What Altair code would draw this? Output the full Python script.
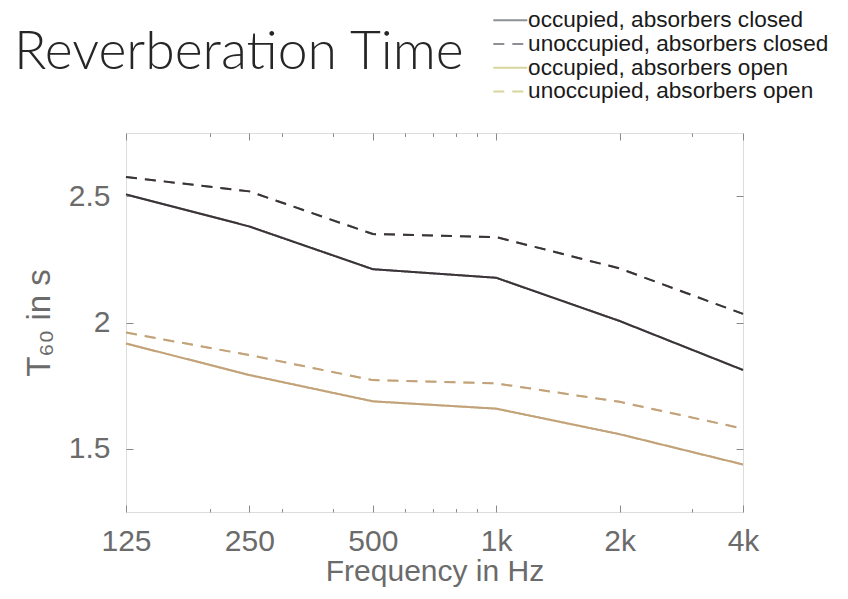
import altair as alt
import pandas as pd

# ---- data ----
freqs = [125, 250, 500, 1000, 2000, 4000]
occ_closed = [2.507, 2.380, 2.211, 2.177, 2.006, 1.812]
unocc_closed = [2.576, 2.519, 2.350, 2.338, 2.214, 2.034]
occ_open = [1.917, 1.792, 1.688, 1.659, 1.558, 1.438]
unocc_open = [1.960, 1.871, 1.772, 1.759, 1.686, 1.580]

series_names = [
    "occupied, absorbers closed",
    "unoccupied, absorbers closed",
    "occupied, absorbers open",
    "unoccupied, absorbers open",
]
series_values = [occ_closed, unocc_closed, occ_open, unocc_open]

major_x = [125, 250, 500, 1000, 2000, 4000]
minor_x = [200, 300, 400, 600, 700, 800, 900, 3000]
y_ticks = [1.5, 2, 2.5]

rows = []
for name, vals in zip(series_names, series_values):
    for f, v in zip(freqs, vals):
        rows.append({"freq": f, "t60": v, "series": name})
df = pd.DataFrame(rows)

# ---- styles ----
DARK = "#3a3338"
TAN = "#c4a17d"
LEG_GRAY = "#8d9094"
LEG_YELLOW = "#d6d69c"
AXIS_GRAY = "#8a8a8a"
LABEL_GRAY = "#6b6b6b"
FONT = "Liberation Sans"
TICK = 7

is_minor = "indexof([125,250,500,1000,2000,4000], datum.value) < 0"
tick_dash = {"condition": {"test": is_minor, "value": [0, 3.5, 4, 30]}, "value": [30, 0]}

x_scale = alt.Scale(type="log", domain=[125, 4000], nice=False)
y_scale = alt.Scale(domain=[1.25, 2.75], nice=False, zero=False)

x_label_expr = (
    "indexof([125,250,500], datum.value) >= 0 ? datum.value + '' : "
    "(indexof([1000,2000,4000], datum.value) >= 0 ? (datum.value/1000) + 'k' : '')"
)

x_bottom = alt.Axis(
    orient="bottom", values=major_x + minor_x, labelExpr=x_label_expr,
    offset=-TICK, tickSize=TICK, tickDash=tick_dash, tickColor=AXIS_GRAY,
    domain=False, grid=False, labelFlush=False, labelOverlap=False,
    labelFont=FONT, labelFontSize=30, labelColor=LABEL_GRAY, labelPadding=14,
    title="Frequency in Hz", titleFont=FONT, titleFontSize=30,
    titleFontWeight="normal", titleColor=LABEL_GRAY, titlePadding=0,
)
y_left = alt.Axis(
    orient="left", values=y_ticks, format="~g",
    offset=-TICK, tickSize=TICK, tickColor=AXIS_GRAY,
    domain=False, grid=False,
    labelFont=FONT, labelFontSize=30, labelColor=LABEL_GRAY, labelPadding=16,
    title="T₆₀ in s", titleFont=FONT, titleFontSize=33,
    titleFontWeight="normal", titleColor=LABEL_GRAY, titlePadding=12,
)
x_top = alt.Axis(
    orient="top", values=major_x + minor_x, labels=False, title=None,
    offset=-TICK, tickSize=TICK, tickDash=tick_dash, tickColor=AXIS_GRAY,
    domain=False, grid=False,
)
y_right = alt.Axis(
    orient="right", values=y_ticks, labels=False, title=None,
    offset=-TICK, tickSize=TICK, tickColor=AXIS_GRAY,
    domain=False, grid=False,
)

legend = alt.Legend(
    title=None, orient="none", legendX=373, legendY=-124, padding=0,
    symbolType="M-3.4,0H3.4", symbolSize=100, symbolStrokeWidth=2,
    labelFont=FONT, labelFontSize=22.6, labelColor="#1a1a1a", labelOffset=6.5,
    labelLimit=500, rowPadding=0.7,
)

dash_enc = alt.StrokeDash(
    "series:N", sort=series_names,
    scale=alt.Scale(domain=series_names, range=[[1, 0], [11, 8], [1, 0], [11, 8]]),
    legend=legend,
)

# lighter copy underneath: carries the legend colours
legend_lines = alt.Chart(df).mark_line(strokeWidth=2).encode(
    x=alt.X("freq:Q", scale=x_scale, axis=x_bottom),
    y=alt.Y("t60:Q", scale=y_scale, axis=y_left),
    color=alt.Color("series:N", sort=series_names,
                    scale=alt.Scale(domain=series_names,
                                    range=[LEG_GRAY, LEG_GRAY, LEG_YELLOW, LEG_YELLOW]),
                    legend=legend),
    strokeDash=dash_enc,
)

lines = alt.Chart(df).mark_line(strokeWidth=2).encode(
    x=alt.X("freq:Q", scale=x_scale, axis=x_top),
    y=alt.Y("t60:Q", scale=y_scale, axis=y_right),
    stroke=alt.Stroke("series:N", sort=series_names,
                      scale=alt.Scale(domain=series_names, range=[DARK, DARK, TAN, TAN]),
                      legend=None),
    strokeDash=dash_enc,
)

chart = (
    alt.layer(legend_lines, lines)
    .resolve_axis(x="independent", y="independent")
    .properties(
        width=617, height=379,
        autosize=alt.AutoSizeParams(type="none"),
        padding={"left": 118, "top": 125, "right": 97, "bottom": 79},
        title=alt.TitleParams(
            text="Reverberation Time", anchor="start", frame="group",
            orient="top", font="Lato", fontWeight=300, fontSize=53.5,
            color="#262626", dx=-112, dy=179, offset=66, baseline="alphabetic",
        ),
    )
    .configure_view(stroke=AXIS_GRAY, strokeWidth=1)
    .configure(background="white")
)

chart.save("out.html", embed_options={"renderer": "svg", "actions": False})
